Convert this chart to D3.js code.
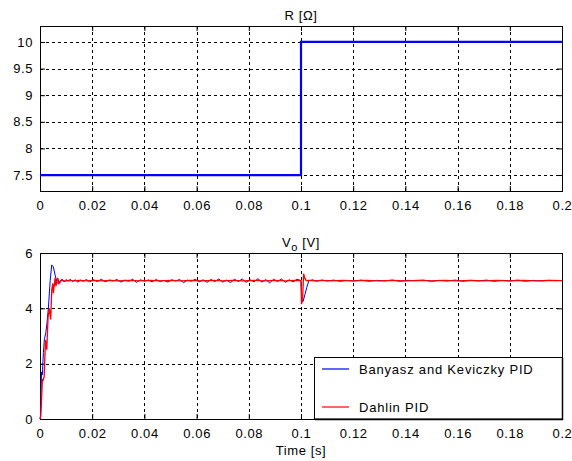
<!DOCTYPE html>
<html><head><meta charset="utf-8">
<script src="https://cdn.jsdelivr.net/npm/d3@7"></script>
<style>
body{margin:0;background:#fff;}
text{font-family:"Liberation Sans",Arial,sans-serif;font-size:13px;fill:#000;letter-spacing:0.6px;}
</style></head><body>
<svg id="c" width="572" height="461"></svg>
<script>
// ---- data ----
const xTicks = [0,0.02,0.04,0.06,0.08,0.1,0.12,0.14,0.16,0.18,0.2];
const xTickLabels = ["0","0.02","0.04","0.06","0.08","0.1","0.12","0.14","0.16","0.18","0.2"];
const rTicks = [7.5,8,8.5,9,9.5,10];
const rTickLabels = ["7.5","8","8.5","9","9.5","10"];
const vTicks = [0,2,4,6];
const vTickLabels = ["0","2","4","6"];

const rTime = [0, 0.1, 0.1, 0.2];
const rValue = [7.5, 7.5, 10, 10];

const bkTime = [0,0.0002,0.0004,0.0006,0.0009,0.0013,0.0017,0.0022,0.0026,0.0032,0.0039,0.0045,0.0051,0.0058,0.0065,0.0071,0.0077,0.0085,0.0092,0.0100,0.0108,0.0116,0.0125,0.0135,0.0145,0.0155,0.0165,0.0178,0.0190,0.0205,0.0220,0.0235,0.0250,0.0265,0.0280,0.0295,0.0310,0.0325,0.0340,0.0355,0.0370,0.0385,0.0400,0.0415,0.0430,0.0445,0.0460,0.0475,0.0490,0.0505,0.0520,0.0535,0.0550,0.0565,0.0580,0.0595,0.0610,0.0625,0.0640,0.0655,0.0670,0.0685,0.0700,0.0715,0.0730,0.0745,0.0760,0.0775,0.0790,0.0805,0.0820,0.0835,0.0850,0.0865,0.0880,0.0895,0.0910,0.0925,0.0940,0.0955,0.0970,0.0985,0.1000,0.1003,0.1008,0.1015,0.1022,0.1030,0.1045,0.1060,0.1080,0.1100,0.1125,0.1150,0.1175,0.1200,0.1230,0.1260,0.1290,0.1320,0.1350,0.1380,0.1410,0.1440,0.1470,0.1500,0.1530,0.1560,0.1590,0.1620,0.1650,0.1680,0.1710,0.1740,0.1770,0.1800,0.1830,0.1860,0.1890,0.1920,0.1950,0.1980,0.2000];
const bkValue = [0,0.1,0.9,1.7,1.6,2.4,2.9,3.1,3.4,4.0,5.0,5.57,5.5,5.2,4.95,4.88,5.0,5.05,4.96,5.04,4.98,5.05,4.97,5.03,4.95,5.02,4.98,5.04,4.96,5.03,4.97,5.05,4.96,5.02,4.99,5.04,4.95,5.02,4.98,5.05,4.94,5.03,4.98,5.02,4.96,5.04,4.97,5.01,4.95,5.03,4.99,5.04,4.93,5.02,4.98,5.05,4.96,5.03,4.94,5.04,4.97,5.06,4.95,5.02,4.93,5.05,4.97,5.06,4.94,5.03,4.96,5.07,4.95,5.04,4.92,5.05,4.97,5.06,4.94,5.03,4.96,5.05,5.0,4.3,4.25,4.5,4.75,5.0,5.03,4.98,5.02,4.99,5.02,4.98,5.01,4.99,5.02,4.98,5.01,4.99,5.02,4.98,5.01,5.0,5.02,4.98,5.01,4.99,5.02,4.98,5.01,4.99,5.02,4.98,5.01,4.99,5.02,4.98,5.01,4.99,5.01,5.0];

const dTime = [0,0.0003,0.0006,0.0009,0.0012,0.0016,0.0021,0.0026,0.0031,0.0036,0.0041,0.0045,0.0049,0.0051,0.0058,0.0061,0.0068,0.0073,0.0083,0.0095,0.0110,0.0130,0.0150,0.0180,0.0210,0.0240,0.0270,0.0300,0.0340,0.0380,0.0420,0.0460,0.0500,0.0540,0.0580,0.0620,0.0660,0.0700,0.0740,0.0780,0.0820,0.0860,0.0900,0.0940,0.0980,0.1000,0.1002,0.1006,0.1010,0.1014,0.1020,0.1030,0.1050,0.1080,0.1120,0.1160,0.1200,0.1250,0.1300,0.1350,0.1400,0.1450,0.1500,0.1550,0.1600,0.1650,0.1700,0.1750,0.1800,0.1850,0.1900,0.1950,0.2000];
const dValue = [0,0.1,0.7,1.42,1.4,1.54,2.86,2.5,3.7,4.0,3.6,4.66,4.9,4.55,5.1,4.8,5.1,4.9,5.02,4.98,5.01,4.99,5.01,4.99,5.01,4.99,5.01,4.99,5.01,4.99,5.01,4.99,5.01,4.99,5.01,4.99,5.01,4.99,5.01,4.99,5.01,4.99,5.01,4.99,5.01,5.0,4.15,4.3,5.25,5.1,5.0,5.01,4.99,5.01,4.99,5.01,4.99,5.01,4.99,5.01,4.99,5.01,4.99,5.01,4.99,5.01,4.99,5.01,4.99,5.01,4.99,5.01,5.0];

const seriesNames = ["Banyasz and Keviczky PID","Dahlin PID"];
const seriesColors = ["#0000ff","#ff0000"];

// ---- drawing ----
const svg = d3.select("#c");
const L = 40, R = 562;
const x = d3.scaleLinear().domain([0,0.2]).range([L,R]);
const yR = d3.scaleLinear().domain([7.2,10.3]).range([191,26]);
const yV = d3.scaleLinear().domain([0,6]).range([419,253]);

function panel(y, yt, ytl, title, titleSub) {
  const [b,t] = y.range();
  const g = svg.append("g");
  xTicks.forEach(v=>{ if(v>0 && v<0.2) g.append("line").attr("x1",Math.round(x(v))+0.5).attr("x2",Math.round(x(v))+0.5).attr("y1",t).attr("y2",b)
      .attr("stroke","#000").attr("stroke-width",1).attr("stroke-dasharray","3,3");});
  yt.forEach(v=>{ const py=Math.round(y(v))+0.5; if(py>t+1 && py<b-1) g.append("line").attr("x1",L).attr("x2",R).attr("y1",py).attr("y2",py)
      .attr("stroke","#000").attr("stroke-width",1).attr("stroke-dasharray","3,3");});
  const ax = d3.axisBottom(x).tickValues(xTicks).tickFormat((d,i)=>xTickLabels[i]).tickSizeInner(-5).tickSizeOuter(0).tickPadding(10);
  g.append("g").attr("transform",`translate(0,${b})`).call(ax);
  const axT = d3.axisTop(x).tickValues(xTicks).tickFormat("").tickSizeInner(-5).tickSizeOuter(0);
  g.append("g").attr("transform",`translate(0,${t})`).call(axT);
  const ay = d3.axisLeft(y).tickValues(yt).tickFormat((d,i)=>ytl[i]).tickSizeInner(-5).tickSizeOuter(0).tickPadding(7);
  g.append("g").attr("transform",`translate(${L},0)`).call(ay);
  const ayR = d3.axisRight(y).tickValues(yt).tickFormat("").tickSizeInner(-5).tickSizeOuter(0);
  g.append("g").attr("transform",`translate(${R},0)`).call(ayR);
  g.selectAll(".domain").remove();
  g.selectAll(".tick line").attr("stroke","#000");
  g.selectAll(".tick text").attr("font-size",13).attr("fill","#000").style("font-family","'Liberation Sans',Arial,sans-serif").style("letter-spacing","0.6px");
  g.append("rect").attr("x",L+0.5).attr("y",t+0.5).attr("width",R-L).attr("height",b-t)
   .attr("fill","none").attr("stroke","#000").attr("stroke-width",1);
  const tt = g.append("text").attr("x",(L+R)/2).attr("y",t-6).attr("text-anchor","middle");
  tt.append("tspan").text(title[0]);
  if (titleSub) { tt.append("tspan").attr("dy",4).attr("font-size",11).text(titleSub); tt.append("tspan").attr("dy",-4).text(title[1]); }
  return g;
}

panel(yR, rTicks, rTickLabels, ["R [\u03A9]"]);
panel(yV, vTicks, vTickLabels, ["V", " [V]"], "o");

svg.append("path").datum(rTime.map((t,i)=>[t,rValue[i]]))
  .attr("d", d3.line().x(d=>x(d[0])).y(d=>yR(d[1])))
  .attr("fill","none").attr("stroke","#0000ff").attr("stroke-width",2.2);

const line = d3.line().x(d=>x(d[0])).y(d=>yV(d[1]));
svg.append("path").datum(bkTime.map((t,i)=>[t,bkValue[i]])).attr("d",line)
  .attr("fill","none").attr("stroke",seriesColors[0]).attr("stroke-width",1);
svg.append("path").datum(dTime.map((t,i)=>[t,dValue[i]])).attr("d",line)
  .attr("fill","none").attr("stroke",seriesColors[1]).attr("stroke-width",1.3);

svg.append("text").attr("x",(L+R)/2).attr("y",455).attr("text-anchor","middle").text("Time [s]");

const lg = svg.append("g");
lg.append("rect").attr("x",314.5).attr("y",357.5).attr("width",248).attr("height",61.5)
  .attr("fill","#fff").attr("stroke","#000").attr("stroke-width",1);
lg.append("line").attr("x1",562.5).attr("x2",562.5).attr("y1",358).attr("y2",420).attr("stroke","#000").attr("stroke-width",1.5);
lg.append("line").attr("x1",315).attr("x2",563).attr("y1",419.5).attr("y2",419.5).attr("stroke","#000").attr("stroke-width",1.5);
const legY = [369, 407];
seriesNames.forEach((n,i)=>{
  lg.append("line").attr("x1",322).attr("x2",349).attr("y1",legY[i]).attr("y2",legY[i]).attr("stroke",seriesColors[i]).attr("stroke-width",1.2);
  lg.append("text").attr("x",359).attr("y",legY[i]+5).attr("font-size",14).style("letter-spacing","0.8px").text(n);
});
</script></body></html>
